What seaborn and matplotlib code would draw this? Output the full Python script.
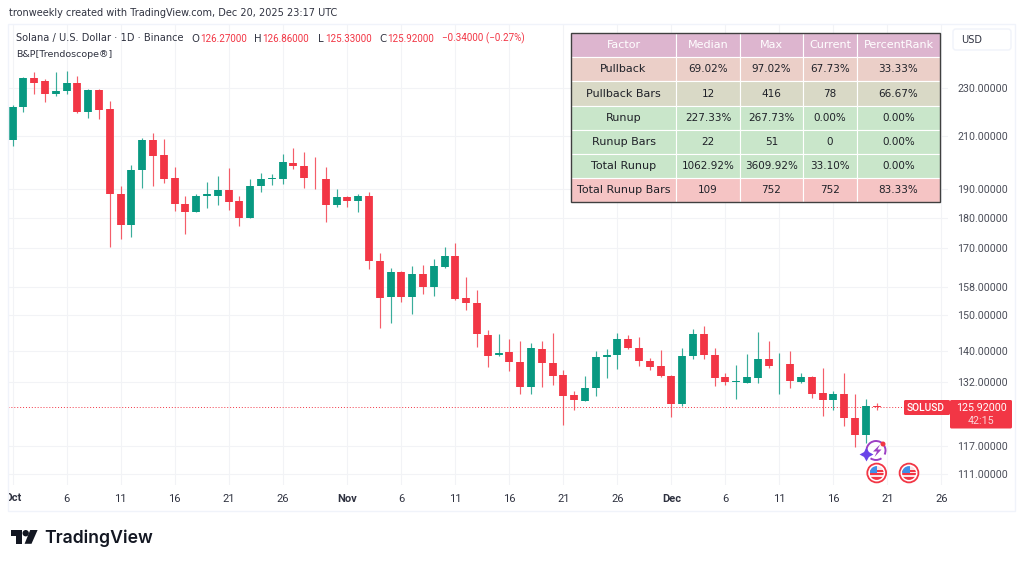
import numpy as np
import pandas as pd
import matplotlib
matplotlib.use("Agg")
import matplotlib.pyplot as plt
from matplotlib.patches import Rectangle, FancyBboxPatch, Polygon, Circle, Arc
import seaborn as sns

opens = [208.6,222.2,234.7,233.1,227.6,228.6,232.3,219.9,229.1,221.1,188.4,177.6,197.0,208.7,202.6,194.2,185.0,182.0,187.5,187.8,
         189.7,185.8,179.9,191.3,193.7,193.7,199.7,198.6,194.2,193.9,184.5,187.2,186.0,187.7,166.0,155.1,162.5,155.1,161.8,157.9,
         164.2,167.4,154.8,153.4,144.2,139.0,139.7,137.2,130.9,140.6,136.9,133.7,128.8,127.4,130.5,138.4,139.0,143.1,140.8,137.5,
         136.0,133.6,126.6,138.8,144.7,139.0,133.2,132.1,131.9,133.1,137.8,136.5,136.5,132.1,133.2,129.4,127.6,129.0,123.4,119.5,126.27]
highs = [222.9,234.8,237.2,233.9,237.2,237.8,235.4,229.6,229.7,224.6,191.4,199.0,209.3,211.3,208.8,198.4,187.7,188.4,192.6,194.8,
         197.9,187.7,193.7,196.1,195.6,203.2,205.4,203.9,201.9,198.4,190.1,187.7,188.3,189.0,168.4,163.8,162.8,164.4,164.8,166.5,
         170.4,171.7,161.0,157.2,145.7,144.6,143.3,142.7,142.1,142.7,144.8,135.0,129.9,133.6,139.9,140.6,144.8,144.3,143.7,138.2,
         140.3,133.8,140.9,146.0,146.9,140.7,134.3,136.4,139.3,145.0,142.7,139.4,140.1,134.2,133.6,135.6,129.9,134.3,129.0,127.9,126.86]
lows = [206.4,219.8,227.6,224.3,226.6,227.7,219.7,217.6,217.1,170.3,173.0,173.5,190.6,191.4,192.3,182.4,174.5,182.0,183.3,184.4,
        182.9,177.2,179.9,189.1,191.5,192.0,197.5,190.5,190.0,178.8,183.9,183.9,182.1,163.4,146.1,147.5,153.7,150.1,155.9,155.3,
        163.7,154.2,151.4,141.2,135.8,138.8,134.7,129.0,129.2,130.7,131.2,121.8,125.2,127.4,128.7,133.1,135.3,140.5,136.2,135.0,
        133.4,123.5,126.2,138.0,138.0,131.1,131.4,127.9,131.7,131.9,135.7,129.2,130.5,131.8,128.1,123.9,125.2,121.6,116.7,117.7,125.33]
closes = [221.9,234.7,232.5,227.6,228.7,232.2,219.9,229.1,220.8,188.5,177.8,197.1,208.7,202.5,193.7,184.9,182.0,187.7,188.2,189.7,
          185.6,180.1,191.4,193.6,194.0,200.0,198.5,194.0,194.0,184.5,187.3,186.0,187.8,166.0,154.9,162.5,155.1,161.8,157.9,164.5,
          167.4,154.4,153.3,144.6,138.8,139.4,137.2,130.9,140.8,137.0,133.5,128.7,127.6,130.6,138.5,138.9,143.1,140.7,137.4,135.9,
          133.5,126.7,138.7,144.7,139.0,133.1,132.1,132.3,133.2,137.8,136.2,136.6,132.2,133.2,129.2,127.6,129.0,123.3,119.5,126.2,125.92]

price_ticks = [230, 210, 190, 180, 170, 158, 150, 140, 132, 117, 111]
day_ticks = [0, 5, 10, 15, 20, 25, 31, 36, 41, 46, 51, 56, 61, 66, 71, 76, 81, 86]
day_labels = ["Oct", "6", "11", "16", "21", "26", "Nov", "6", "11", "16", "21", "26", "Dec", "6", "11", "16", "21", "26"]
last_price = 125.92

table_columns = ["Factor", "Median", "Max", "Current", "PercentRank"]
table_rows = [
    ["Pullback", "69.02%", "97.02%", "67.73%", "33.33%"],
    ["Pullback Bars", "12", "416", "78", "66.67%"],
    ["Runup", "227.33%", "267.73%", "0.00%", "0.00%"],
    ["Runup Bars", "22", "51", "0", "0.00%"],
    ["Total Runup", "1062.92%", "3609.92%", "33.10%", "0.00%"],
    ["Total Runup Bars", "109", "752", "752", "83.33%"],
]
row_colors = ["#ddb5cf", "#ebcfc8", "#d9d9c6", "#c9e6ca", "#c9e6ca", "#c9e6ca", "#f5c4c4"]

GREEN, RED = "#089981", "#f23645"
TXT = "#2f3240"
NUM = "Roboto"
W, H = 1024, 565
sns.set_theme(style="white")
plt.rcParams["font.family"] = ["DejaVu Sans"]
fig = plt.figure(figsize=(W / 100, H / 100), dpi=100, facecolor="white")

def box(l, t, r, b):
    return [l / W, 1 - b / H, (r - l) / W, (b - t) / H]

ax = fig.add_axes(box(8, 25, 948, 485))
ax.set_yscale("log")

days = np.arange(len(opens))
dirs = np.where(np.array(closes) >= np.array(opens), "up", "down")
wick_df = pd.DataFrame({"day": np.repeat(days, 2), "price": np.ravel(np.column_stack([lows, highs])), "dir": np.repeat(dirs, 2)})
body_df = pd.DataFrame({"day": np.repeat(days, 2), "price": np.ravel(np.column_stack([opens, closes])), "dir": np.repeat(dirs, 2)})
pal = {"up": GREEN, "down": RED}
sns.lineplot(data=wick_df, x="day", y="price", hue="dir", units="day", estimator=None, sort=False,
             palette=pal, legend=False, linewidth=0.85, alpha=0.8, ax=ax, zorder=3, solid_capstyle="butt")
sns.lineplot(data=body_df, x="day", y="price", hue="dir", units="day", estimator=None, sort=False,
             palette=pal, legend=False, linewidth=5.6, ax=ax, zorder=4, solid_capstyle="butt")

ax.set_xlim(-0.426, 86.61)
ax.set_ylim(108.7, 259.2)
ax.set_xlabel("")
ax.set_ylabel("")
ax.axhline(last_price, color=RED, lw=0.7, ls=(0, (1, 2)), zorder=2)
ax.set_xticks(day_ticks)
ax.set_xticklabels(day_labels, family=NUM)
ax.yaxis.tick_right()
ax.set_yticks(price_ticks)
ax.set_yticklabels([f"{p:.5f}" for p in price_ticks], family=NUM)
ax.minorticks_off()
ax.grid(True, color="#f2f3f6", lw=0.8, zorder=0)
ax.set_axisbelow(True)
for s in ax.spines.values():
    s.set_visible(False)
ax.tick_params(axis="y", length=0, pad=6.5, labelsize=7.7, labelcolor="#4a4d58")
ax.tick_params(axis="x", length=0, pad=6.5, labelsize=8, labelcolor=TXT)
for lab in ax.get_xticklabels():
    if lab.get_text() in ("Oct", "Nov", "Dec"):
        lab.set_fontweight("bold")
ax.get_xticklabels()[0].set_visible(False)

# Overlay in pixel space for the surrounding decorations
ov = fig.add_axes([0, 0, 1, 1], zorder=5)
ov.set_xlim(0, W)
ov.set_ylim(H, 0)
ov.axis("off")
ov.patch.set_alpha(0)

ov.add_patch(Rectangle((8, 24), 1007, 487, fc="none", ec="#f0f3fa", lw=1))
ov.text(9, 13, "tronweekly created with TradingView.com, Dec 20, 2025 23:17 UTC", fontsize=7.06, color=TXT, va="center")
ov.text(16, 38.5, "Solana / U.S. Dollar · 1D · Binance", fontsize=7.1, color=TXT, va="center")
legend_items = [(191, "O"), (200, "126.27000"), (254, "H"), (262, "126.86000"), (318, "L"), (325, "125.33000"),
                (379, "C"), (387, "125.92000"), (442, "−0.34000 (−0.27%)")]
for xp, s in legend_items:
    is_lab = s in "OHLC"
    ov.text(xp, 38.5, s, fontsize=7.3 if is_lab else 7.15, color=TXT if is_lab else RED, va="center",
            family="DejaVu Sans" if is_lab else NUM)
ov.text(16, 54.5, "B&P[Trendoscope®]", fontsize=6.8, color=TXT, va="center")
oct_lab = ov.text(4.5, 497.7, "Oct", fontsize=8, color=TXT, va="center", fontweight="bold", family=NUM, clip_on=True)
oct_lab.set_clip_path(Rectangle((8.5, 488), 40, 20, transform=ov.transData))

# USD button
ov.add_patch(FancyBboxPatch((953, 29), 58, 21, boxstyle="round,pad=0,rounding_size=3", fc="white", ec="#f0f3fa", lw=1))
ov.text(961, 40, "USD", fontsize=7.1, color=TXT, va="center")

# Price tags
ov.add_patch(FancyBboxPatch((904, 400), 46, 15, boxstyle="round,pad=0,rounding_size=1.5", fc=RED, ec="none"))
ov.text(926, 407.8, "SOLUSD", fontsize=7.3, color="white", va="center", ha="center", family=NUM, fontweight="medium")
ov.add_patch(FancyBboxPatch((950, 400), 62, 28.5, boxstyle="round,pad=0,rounding_size=1.5", fc=RED, ec="none"))
ov.text(981, 408, f"{last_price:.5f}", fontsize=7.7, color="white", va="center", ha="center", family=NUM)
ov.text(981, 421, "42:15", fontsize=7.7, color="#fbd5d9", va="center", ha="center", family=NUM)

# Table
col_edges = [571, 676, 740, 803, 857, 940]
row_edges = [33, 57, 81, 106, 130, 154, 178, 202]
for r in range(7):
    for c in range(5):
        ov.add_patch(Rectangle((col_edges[c], row_edges[r]), col_edges[c + 1] - col_edges[c], row_edges[r + 1] - row_edges[r],
                               fc=row_colors[r], ec="white", lw=0.8))
        s = table_columns[c] if r == 0 else table_rows[r - 1][c]
        is_word = r == 0 or c == 0
        ov.text((col_edges[c] + col_edges[c + 1]) / 2, (row_edges[r] + row_edges[r + 1]) / 2 + 0.3, s,
                fontsize=8.0 if is_word else 7.5, ha="center", va="center",
                color="white" if r == 0 else "#1f2128")
ov.add_patch(Rectangle((571, 33), 369, 169, fc="none", ec="#3f3f3f", lw=1))

# Event icons
for cx in (876.7, 909):
    ov.add_patch(Circle((cx, 473), 9.4, fc="white", ec=RED, lw=1.3))
    clip = Circle((cx, 473), 6.9, transform=ov.transData)
    for y0, hgt, col in [(466, 14, "#fbe3e5"), (470, 1.6, RED), (473.2, 1.9, RED), (476.8, 3.5, RED)]:
        p = Rectangle((cx - 7, y0), 14, hgt, fc=col, ec="none")
        ov.add_patch(p)
        p.set_clip_path(clip)
    p = Rectangle((cx - 7, 466), 7.7, 7.4, fc="#3f8fe8", ec="none")
    ov.add_patch(p)
    p.set_clip_path(clip)
ov.add_patch(Arc((876, 450.5), 19, 19, theta1=-215, theta2=25, ec="#9c3fc4", lw=1.4))
ov.add_patch(Arc((876, 450.5), 19, 19, theta1=55, theta2=125, ec="#9c3fc4", lw=1.4))
ov.add_patch(Polygon([(880, 444.5), (873, 451.5), (877, 451.5), (874.5, 457), (881.5, 449.5), (877.5, 449.5)], fc="#9c3fc4", ec="none"))
ov.add_patch(Circle((883, 444), 2.5, fc=RED, ec="none"))
ov.plot([866], [454], marker=(4, 1, 0), ms=10, color="#6a45e8", mew=0)

# Brand
ink = "#131722"
ov.add_patch(Polygon([(10.7, 530), (22, 530), (22, 543.8), (16, 543.8), (16, 536.2), (10.7, 536.2)], fc=ink, ec="none"))
ov.add_patch(Circle((25.7, 533.2), 3.2, fc=ink, ec="none"))
ov.add_patch(Polygon([(30.2, 530), (37.6, 530), (31.5, 543.8), (24.6, 543.8)], fc=ink, ec="none"))
ov.text(44, 538, "TradingView", fontsize=12.7, color=ink, va="center", family="Inter", fontweight="semibold")

fig.savefig("out.png", dpi=100, facecolor="white")
